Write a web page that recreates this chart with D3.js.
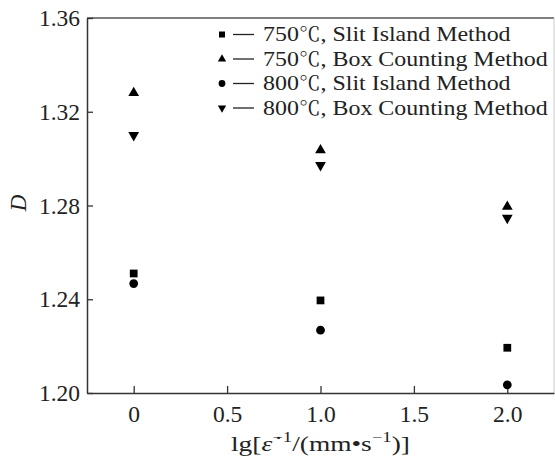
<!DOCTYPE html>
<html><head><meta charset="utf-8">
<script src="https://cdn.jsdelivr.net/npm/d3@7"></script>
<style>body{margin:0;background:#fff}svg{display:block}</style>
</head><body><div id="chart"></div>
<script>
const xValues = [0, 1.0, 2.0];
const series750Slit = [1.251, 1.2395, 1.2193];
const series750Box = [1.328, 1.3036, 1.2795];
const series800Slit = [1.2467, 1.2268, 1.2035];
const series800Box = [1.3100, 1.2972, 1.2747];
const seriesTemps = ["750", "750", "800", "800"];
const seriesMethods = ["Slit Island Method", "Box Counting Method", "Slit Island Method", "Box Counting Method"];
const seriesSymbols = ["square", "triangleUp", "circle", "triangleDown"];
const xTicks = [0, 0.5, 1.0, 1.5, 2.0];
const xTickLabels = ["0", "0.5", "1.0", "1.5", "2.0"];
const yTicks = [1.20, 1.24, 1.28, 1.32, 1.36];
const yTickLabels = ["1.20", "1.24", "1.28", "1.32", "1.36"];

const SERIF = '"Liberation Serif", "Times New Roman", serif';
const CJK = '"Noto Serif CJK SC", "Noto Sans CJK SC", serif';
const W = 555, H = 461;
const m = {left: 87, top: 18, right: 554, bottom: 393};
const svg = d3.select("#chart").append("svg").attr("width", W).attr("height", H);
const x = d3.scaleLinear().domain([-0.25, 2.25]).range([m.left, m.right]);
const y = d3.scaleLinear().domain([1.20, 1.36]).range([m.bottom, m.top]);

// frame
svg.append("line").attr("x1", m.left).attr("x2", m.right).attr("y1", m.top).attr("y2", m.top).attr("stroke", "#555").attr("stroke-width", 1.3);
svg.append("line").attr("x1", m.right).attr("x2", m.right).attr("y1", m.top).attr("y2", m.bottom).attr("stroke", "#ccc").attr("stroke-width", 1);

const xAxis = svg.append("g").attr("transform", `translate(0,${m.bottom})`)
  .call(d3.axisBottom(x).tickValues(xTicks).tickFormat((d, i) => xTickLabels[i]).tickSizeInner(-7).tickSizeOuter(0).tickPadding(12));
const yAxis = svg.append("g").attr("transform", `translate(${m.left},0)`)
  .call(d3.axisLeft(y).tickValues(yTicks).tickFormat((d, i) => yTickLabels[i]).tickSizeInner(-6).tickSizeOuter(0).tickPadding(7));
[xAxis, yAxis].forEach(g => {
  g.attr("font-family", SERIF).attr("font-size", 23.5);
  g.select(".domain").attr("stroke", "#333").attr("stroke-width", 1.5);
  g.selectAll(".tick line").attr("stroke", "#333").attr("stroke-width", 1.3);
  g.selectAll(".tick text").style("font-family", SERIF).style("font-size", "23.5px").attr("fill", "#222");
});
yAxis.selectAll(".tick text").attr("x", -7);
xAxis.selectAll(".tick text").attr("dy", "0.71em");

// axis titles
svg.append("text").attr("transform", `translate(26,203) rotate(-90)`).attr("text-anchor", "middle")
  .style("font-family", SERIF).style("font-size", "23px").style("font-style", "italic").attr("fill", "#222").text("D");

const xtG = svg.append("g");
const xt = xtG.append("text").attr("x", 0).attr("y", 0)
  .style("font-family", SERIF).style("font-size", "22px").attr("fill", "#222");
xt.append("tspan").text("lg[");
xt.append("tspan").style("font-style", "italic").text("ε̇");
xt.append("tspan").attr("dy", -9).style("font-size", "15px").text("−1");
xt.append("tspan").attr("dy", 9).text("/(mm•s");
xt.append("tspan").attr("dy", -9).style("font-size", "15px").text("−1");
xt.append("tspan").attr("dy", 9).text(")]");
{
  const w = xt.node().getComputedTextLength();
  const sx = 179 / w;
  xtG.attr("transform", `translate(231,451) scale(${sx},1)`);
}

const symMap = {square: d3.symbolSquare, triangleUp: d3.symbolTriangle, circle: d3.symbolCircle, triangleDown: d3.symbolTriangle};
const symSize = {square: 60, triangleUp: 50, circle: 60, triangleDown: 50};
function sym(g, type, cx, cy, scale = 1) {
  g.append("path").attr("d", d3.symbol().type(symMap[type]).size(symSize[type] * scale)())
    .attr("transform", `translate(${cx},${cy})` + (type === "triangleDown" ? " rotate(180)" : ""))
    .attr("fill", "#000");
}
const allSeries = [series750Slit, series750Box, series800Slit, series800Box];
const pts = svg.append("g");
allSeries.forEach((s, si) => s.forEach((v, i) => sym(pts, seriesSymbols[si], x(xValues[i]), y(v))));

// legend
const lg = svg.append("g");
const lgTexts = svg.append("g");
let texts = [];
seriesMethods.forEach((name, i) => {
  const cy = 34.5 + i * 24.5;
  sym(lg, seriesSymbols[i], 222, cy, 0.6);
  lg.append("line").attr("x1", 233).attr("x2", 254).attr("y1", cy).attr("y2", cy).attr("stroke", "#222").attr("stroke-width", 1.3);
  const t = lgTexts.append("text").attr("x", 0).attr("y", cy + 7).style("font-family", SERIF).style("font-size", "21px").attr("fill", "#222");
  t.append("tspan").text(seriesTemps[i]);
  t.append("tspan").style("font-family", CJK).style("font-size", "19px").text("℃");
  t.append("tspan").text(", " + name);
  texts.push(t);
});
{
  const w = texts[1].node().getComputedTextLength();
  lgTexts.attr("transform", `translate(263,0) scale(${285 / w},1)`);
}
</script></body></html>
